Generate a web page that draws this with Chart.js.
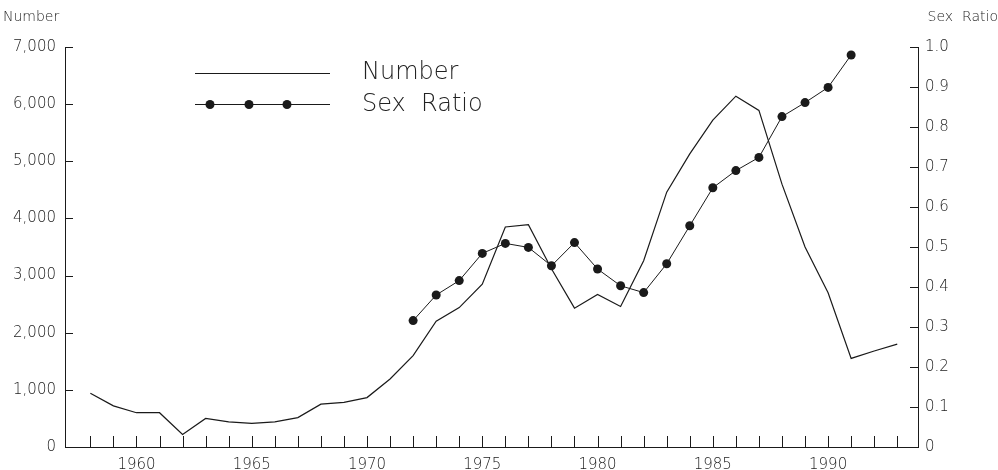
<!DOCTYPE html>
<html>
<head>
<meta charset="utf-8">
<script src="https://cdn.jsdelivr.net/npm/chart.js@4/dist/chart.umd.min.js"></script>
<style>
  html, body { margin: 0; padding: 0; background: #fff; }
  #wrap { width: 998px; height: 470px; }
</style>
</head>
<body>
<div id="wrap"><canvas id="chart"></canvas></div>
<script>
// years on the x axis
var years = [1958, 1959, 1960, 1961, 1962, 1963, 1964, 1965, 1966, 1967,
             1968, 1969, 1970, 1971, 1972, 1973, 1974, 1975, 1976, 1977,
             1978, 1979, 1980, 1981, 1982, 1983, 1984, 1985, 1986, 1987,
             1988, 1989, 1990, 1991, 1992, 1993];
var numberValues = [940, 720, 600, 600, 220, 500, 440, 415, 440, 515,
                    750, 780, 865, 1190, 1600, 2200, 2440, 2850, 3850, 3890,
                    3120, 2430, 2670, 2460, 3260, 4460, 5130, 5720, 6140, 5890,
                    4600, 3500, 2700, 1550, 1680, 1800];

// sex ratio only recorded 1972-1991
var ratioYears = [1972, 1973, 1974, 1975, 1976, 1977, 1978, 1979, 1980, 1981,
                  1982, 1983, 1984, 1985, 1986, 1987, 1988, 1989, 1990, 1991];
var ratioValues = [0.316, 0.38, 0.416, 0.484, 0.509, 0.499, 0.453, 0.511, 0.445, 0.403,
                   0.386, 0.458, 0.553, 0.648, 0.691, 0.724, 0.826, 0.861, 0.899, 0.98];

var leftTicks = [0, 1000, 2000, 3000, 4000, 5000, 6000, 7000];
var rightTicks = [0, 0.1, 0.2, 0.3, 0.4, 0.5, 0.6, 0.7, 0.8, 0.9, 1.0];
var xLabelEvery = 5;

var FONT = '"DejaVu Sans", sans-serif';
var INK = '#1a1a1a';
var TEXT = '#222';

function pairs(xs, ys) {
  return xs.map(function (x, i) { return { x: x, y: ys[i] }; });
}

// inward tick marks, axis titles and the legend box
var decorations = {
  id: 'decorations',
  afterDraw: function (chart) {
    var ctx = chart.ctx;
    var x = chart.scales.x, y = chart.scales.y, y2 = chart.scales.y2;
    ctx.save();
    ctx.strokeStyle = INK;
    ctx.lineWidth = 1;
    ctx.beginPath();
    years.forEach(function (v) {
      var px = Math.round(x.getPixelForValue(v)) + 0.5;
      ctx.moveTo(px, x.top);
      ctx.lineTo(px, x.top - 11);
    });
    leftTicks.forEach(function (v) {
      var py = Math.round(y.getPixelForValue(v)) + 0.5;
      ctx.moveTo(y.right, py);
      ctx.lineTo(y.right + 8, py);
    });
    rightTicks.forEach(function (v) {
      var py = Math.round(y2.getPixelForValue(v)) + 0.5;
      ctx.moveTo(y2.left, py);
      ctx.lineTo(y2.left - 8, py);
    });
    ctx.stroke();

    // axis titles
    ctx.fillStyle = TEXT;
    ctx.font = '300 14px ' + FONT;
    ctx.textBaseline = 'middle';
    ctx.textAlign = 'left';
    ctx.fillText('Number', 3, 17);
    ctx.textAlign = 'right';
    ctx.fillText('Sex  Ratio', 998, 17);

    // legend
    ctx.fillStyle = INK;
    ctx.beginPath();
    ctx.lineWidth = 1.2;
    ctx.moveTo(195, 73.5);
    ctx.lineTo(330, 73.5);
    ctx.moveTo(195, 104.5);
    ctx.lineTo(330, 104.5);
    ctx.stroke();
    [210, 249, 287].forEach(function (cx) {
      ctx.beginPath();
      ctx.arc(cx, 104.5, 4.5, 0, Math.PI * 2);
      ctx.fill();
    });
    ctx.fillStyle = TEXT;
    ctx.font = '200 24px ' + FONT;
    ctx.textAlign = 'left';
    ctx.fillText('Number', 362, 73);
    ctx.fillText('Sex  Ratio', 362, 105);
    ctx.restore();
  }
};

var ctx = document.getElementById('chart');
new Chart(ctx, {
  type: 'line',
  data: {
    datasets: [{
      label: 'Number',
      data: pairs(years, numberValues),
      yAxisID: 'y',
      borderColor: INK,
      borderWidth: 1.2,
      pointRadius: 0,
      tension: 0,
      fill: false
    }, {
      label: 'Sex Ratio',
      data: pairs(ratioYears, ratioValues),
      yAxisID: 'y2',
      borderColor: INK,
      backgroundColor: INK,
      borderWidth: 1,
      pointRadius: 4.5,
      pointBackgroundColor: INK,
      pointBorderWidth: 0,
      tension: 0,
      fill: false
    }]
  },
  options: {
    responsive: true,
    maintainAspectRatio: false,
    animation: false,
    layout: { padding: { top: 47, left: 0, right: 0, bottom: 0 } },
    plugins: {
      legend: { display: false },
      tooltip: { enabled: false }
    },
    scales: {
      x: {
        type: 'linear',
        min: 1956.9,
        max: 1993.9,
        afterBuildTicks: function (s) {
          s.ticks = years.map(function (v) { return { value: v }; });
        },
        afterFit: function (s) { s.height = 23; },
        grid: { display: false, drawTicks: false },
        border: { display: true, color: INK, width: 1 },
        ticks: {
          autoSkip: false,
          maxRotation: 0,
          padding: 9,
          color: TEXT,
          font: { family: FONT, size: 15, weight: 300 },
          callback: function (v) { return v % xLabelEvery === 0 ? String(v) : ''; }
        }
      },
      y: {
        position: 'left',
        min: 0,
        max: 7000,
        afterBuildTicks: function (s) {
          s.ticks = leftTicks.map(function (v) { return { value: v }; });
        },
        afterFit: function (s) { s.width = 65; },
        grid: { display: false, drawTicks: false },
        border: { display: true, color: INK, width: 1 },
        ticks: {
          padding: 9,
          color: TEXT,
          font: { family: FONT, size: 15, weight: 300 },
          callback: function (v) { return v.toLocaleString('en-US'); }
        }
      },
      y2: {
        position: 'right',
        min: 0,
        max: 1.0,
        afterBuildTicks: function (s) {
          s.ticks = rightTicks.map(function (v) { return { value: v }; });
        },
        afterFit: function (s) { s.width = 80; },
        grid: { display: false, drawTicks: false },
        border: { display: true, color: INK, width: 1 },
        ticks: {
          padding: 7,
          color: TEXT,
          font: { family: FONT, size: 15, weight: 300 },
          callback: function (v) { return v === 0 ? '0' : v.toFixed(1); }
        }
      }
    }
  },
  plugins: [decorations]
});
</script>
</body>
</html>
